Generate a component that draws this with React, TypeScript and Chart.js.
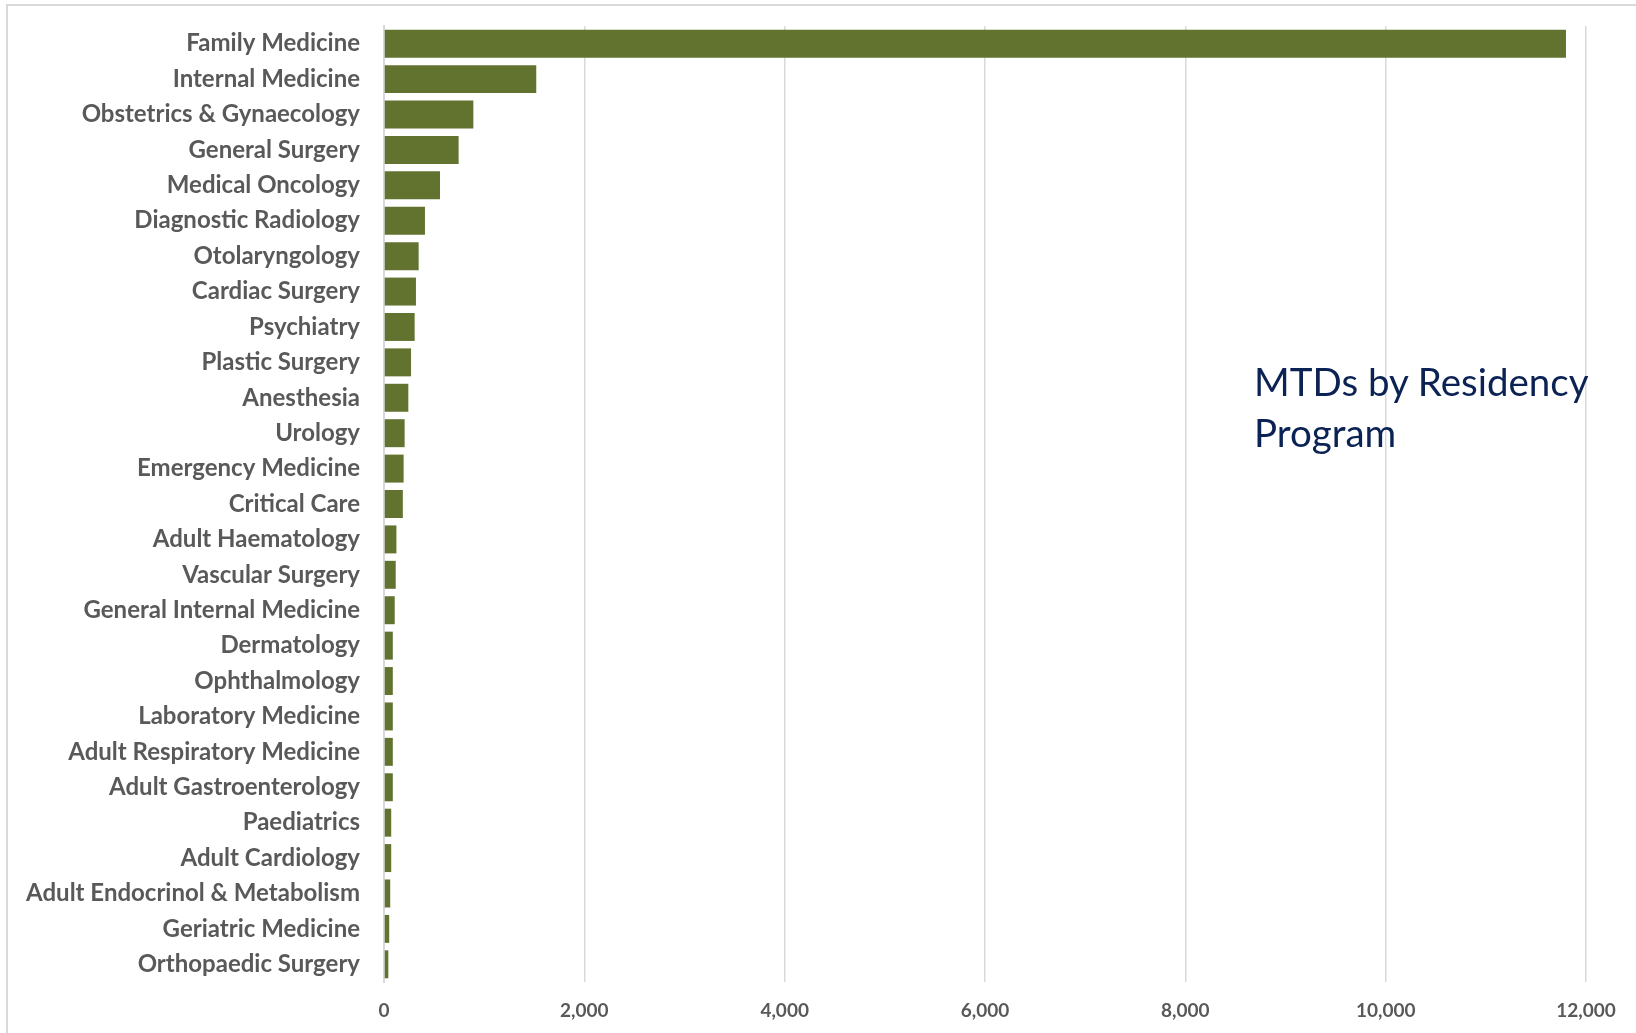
import React, { useEffect, useRef } from "react";
import { Chart, registerables } from "chart.js";

Chart.register(...registerables);

const programs: string[] = [
  "Family Medicine",
  "Internal Medicine",
  "Obstetrics & Gynaecology",
  "General Surgery",
  "Medical Oncology",
  "Diagnostic Radiology",
  "Otolaryngology",
  "Cardiac Surgery",
  "Psychiatry",
  "Plastic Surgery",
  "Anesthesia",
  "Urology",
  "Emergency Medicine",
  "Critical Care",
  "Adult Haematology",
  "Vascular Surgery",
  "General Internal Medicine",
  "Dermatology",
  "Ophthalmology",
  "Laboratory Medicine",
  "Adult Respiratory Medicine",
  "Adult Gastroenterology",
  "Paediatrics",
  "Adult Cardiology",
  "Adult Endocrinol & Metabolism",
  "Geriatric Medicine",
  "Orthopaedic Surgery",
];

const mtdCounts: number[] = [
  11800, 1520, 892, 745, 559, 409, 346, 319, 306, 270, 243, 206, 196, 188,
  124, 117, 107, 88, 88, 88, 88, 88, 72, 72, 62, 52, 43,
];

const xAxisMin = 0;
const xAxisMax = 12000;
const xAxisStep = 2000;

const titleLines: string[] = ["MTDs by Residency", "Program"];

export default function App() {
  const canvasRef = useRef<HTMLCanvasElement | null>(null);

  useEffect(() => {
    if (!canvasRef.current) return;
    const chart = new Chart(canvasRef.current, {
      type: "bar",
      data: {
        labels: programs,
        datasets: [
          {
            data: mtdCounts,
            backgroundColor: "#627330",
            borderWidth: 0,
            barPercentage: 0.79,
            categoryPercentage: 1,
          },
        ],
      },
      options: {
        indexAxis: "y",
        animation: false,
        responsive: false,
        devicePixelRatio: 1,
        layout: { padding: { top: 26, right: 50, bottom: 0, left: 0 } },
        plugins: {
          legend: { display: false },
          tooltip: { enabled: false },
          title: { display: false },
        },
        scales: {
          x: {
            type: "linear",
            min: xAxisMin,
            max: xAxisMax,
            ticks: {
              stepSize: xAxisStep,
              padding: 17,
              color: "#595959",
              font: { family: "Lato", size: 19, weight: "bold" },
              callback: (v: any) => Number(v).toLocaleString("en-US"),
            },
            grid: { color: "#d9d9d9", lineWidth: 1.5, drawTicks: false },
            border: { display: false },
            afterFit: (s: any) => {
              s.height = 51;
            },
          },
          y: {
            ticks: {
              padding: 24,
              autoSkip: false,
              color: "#595959",
              font: { family: "Lato", size: 24, weight: "bold" },
            },
            grid: { display: false, drawTicks: false },
            border: { display: true, color: "#d9d9d9", width: 2 },
            afterFit: (s: any) => {
              s.width = 384;
              s.paddingTop = 0;
              s.paddingBottom = 0;
            },
          },
        },
      },
    });
    return () => chart.destroy();
  }, []);

  return (
    <div
      style={{
        position: "absolute",
        left: 0,
        top: 0,
        width: 1636,
        height: 1033,
        overflow: "hidden",
        background: "#ffffff",
      }}
    >
      <div
        style={{
          position: "absolute",
          left: 6,
          top: 4,
          width: 1700,
          height: 1100,
          borderLeft: "2px solid #d9d9d9",
          borderTop: "2px solid #d9d9d9",
        }}
      />
      <canvas
        ref={canvasRef}
        width={1636}
        height={1033}
        style={{ position: "absolute", left: 0, top: 0, width: 1636, height: 1033 }}
      />
      <div
        style={{
          position: "absolute",
          left: 1254,
          top: 356,
          fontFamily: "Lato",
          fontSize: 38.5,
          lineHeight: "51px",
          color: "#0B2254",
          whiteSpace: "nowrap",
        }}
      >
        {titleLines.map((t, i) => (
          <div key={i}>{t}</div>
        ))}
      </div>
    </div>
  );
}
